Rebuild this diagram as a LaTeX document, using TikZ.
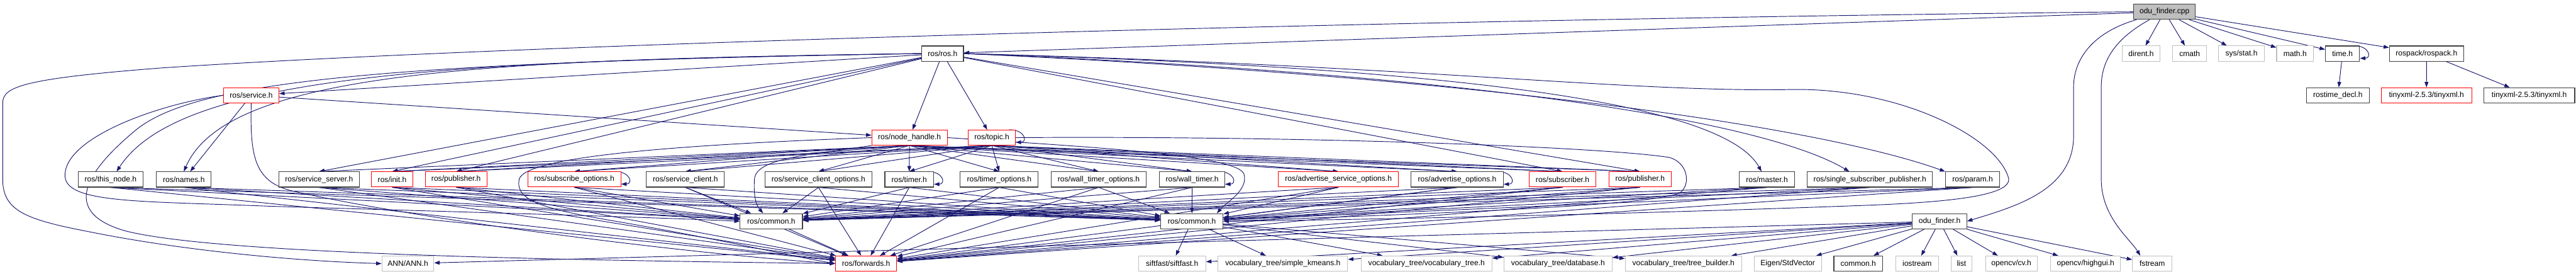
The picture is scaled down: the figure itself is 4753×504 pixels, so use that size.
\documentclass[tikz,border=0pt]{standalone}
\usepackage{fontspec}
\setmainfont{Liberation Sans}
\usepackage{tikz}
\usetikzlibrary{arrows.meta,positioning,calc}
\definecolor{navy}{RGB}{25,25,112}
\definecolor{dgris}{RGB}{64,64,64}
\definecolor{lgris}{RGB}{191,191,191}
\definecolor{rojo}{RGB}{255,0,0}
\pgfdeclarelayer{back}
\pgfsetlayers{back,main}

\begin{document}
\begin{tikzpicture}[x=1pt,y=-1pt,
hdr/.style={draw=dgris,line width=1.3pt,fill=white,minimum height=28pt,inner sep=2pt,anchor=north west,font=\fontsize{14pt}{16pt}\selectfont},
hred/.style={hdr,draw=rojo,line width=1.1pt},
ext/.style={hdr,draw=lgris,line width=1.2pt},
src/.style={hdr,fill=lgris},
arr/.style={-{Triangle[length=10pt,width=7pt]},draw=navy,line width=1.1pt}
]
\useasboundingbox (0,0) rectangle (4753,504);

\node[src,minimum width=114pt] (cpp) at (3936,7) {odu\_finder.cpp};

\node[hdr,minimum width=77pt] (ros) at (1700,84) {ros/ros.h};
\node[ext,minimum width=70pt] (dirent) at (3915,84) {dirent.h};
\node[ext,minimum width=63pt] (cmath) at (4008,84) {cmath};
\node[ext,minimum width=84pt] (sysstat) at (4093,84) {sys/stat.h};
\node[ext,minimum width=68pt] (math) at (4200,84) {math.h};
\node[hdr,minimum width=63pt] (time) at (4290,84) {time.h};
\node[hdr,minimum width=137pt] (rospack) at (4408,84) {rospack/rospack.h};

\node[hred,minimum width=102pt] (service) at (412,161) {ros/service.h};
\node[hdr,minimum width=116pt] (rostime) at (4255,161) {rostime\_decl.h};
\node[hred,minimum width=167pt] (txmlr) at (4393,161) {tinyxml-2.5.3/tinyxml.h};
\node[hdr,minimum width=168pt] (txmlb) at (4582,161) {tinyxml-2.5.3/tinyxml.h};

\node[hred,minimum width=139pt] (nh) at (1608,239) {ros/node\_handle.h};
\node[hred,minimum width=87pt] (topic) at (1786,239) {ros/topic.h};

\node[hdr,minimum width=119pt] (thisnode) at (144,316) {ros/this\_node.h};
\node[hdr,minimum width=101pt] (names) at (288,316) {ros/names.h};
\node[hdr,minimum width=148pt] (srvsrv) at (514,316) {ros/service\_server.h};
\node[hred,minimum width=76pt] (init) at (685,316) {ros/init.h};
\node[hred,minimum width=114pt] (pubA) at (784,316) {ros/publisher.h};
\node[hred,minimum width=172pt] (subopt) at (973,316) {ros/subscribe\_options.h};
\node[hdr,minimum width=144pt] (srvcli) at (1192,316) {ros/service\_client.h};
\node[hdr,minimum width=197pt] (scopt) at (1411,316) {ros/service\_client\_options.h};
\node[hdr,minimum width=90pt] (timer) at (1632,316) {ros/timer.h};
\node[hdr,minimum width=144pt] (timopt) at (1771,316) {ros/timer\_options.h};
\node[hdr,minimum width=175pt] (wtopt) at (1939,316) {ros/wall\_timer\_options.h};
\node[hdr,minimum width=120pt] (wtimer) at (2139,316) {ros/wall\_timer.h};
\node[hred,minimum width=222pt] (asopt) at (2358,316) {ros/advertise\_service\_options.h};
\node[hdr,minimum width=170pt] (aopt) at (2603,316) {ros/advertise\_options.h};
\node[hred,minimum width=123pt] (sub) at (2821,316) {ros/subscriber.h};
\node[hred,minimum width=115pt] (pubB) at (2968,316) {ros/publisher.h};
\node[hdr,minimum width=103pt] (master) at (3208,316) {ros/master.h};
\node[hdr,minimum width=231pt] (ssp) at (3334,316) {ros/single\_subscriber\_publisher.h};
\node[hdr,minimum width=100pt] (param) at (3589,316) {ros/param.h};

\node[hdr,minimum width=115pt] (commonA) at (1365,393) {ros/common.h};
\node[hdr,minimum width=115pt] (commonB) at (2141,393) {ros/common.h};
\node[hdr,minimum width=100pt] (oduh) at (3528,393) {odu\_finder.h};

\node[ext,minimum width=96pt] (ann) at (704,471) {ANN/ANN.h};
\node[hred,minimum width=113pt] (fwd) at (1541,471) {ros/forwards.h};
\node[ext,minimum width=124pt] (sift) at (2100,471) {siftfast/siftfast.h};
\node[ext,minimum width=239pt] (kmeans) at (2247,471) {vocabulary\_tree/simple\_kmeans.h};
\node[ext,minimum width=241pt] (vtree) at (2511,471) {vocabulary\_tree/vocabulary\_tree.h};
\node[ext,minimum width=200pt] (vdb) at (2774,471) {vocabulary\_tree/database.h};
\node[ext,minimum width=215pt] (tbuild) at (2998,471) {vocabulary\_tree/tree\_builder.h};
\node[ext,minimum width=124pt] (eigen) at (3236,471) {Eigen/StdVector};
\node[hdr,minimum width=90pt] (common) at (3383,471) {common.h};
\node[ext,minimum width=79pt] (iostream) at (3497,471) {iostream};
\node[ext,minimum width=39pt] (list) at (3599,471) {list};
\node[ext,minimum width=95pt] (cv) at (3663,471) {opencv/cv.h};
\node[ext,minimum width=129pt] (highgui) at (3783,471) {opencv/highgui.h};
\node[ext,minimum width=73pt] (fstream) at (3934,471) {fstream};

\begin{pgfonlayer}{back}
\draw[arr] (cpp) -- (ros);
\draw[arr] (cpp.west) .. controls (2400,38) and (900,85) .. (300,125) .. controls (40,145) and (5,160) .. (5,190) -- (5,330) .. controls (5,390) and (50,405) .. (170,428) .. controls (320,458) and (520,480) .. (ann.west);
\foreach \x in {dirent,cmath,sysstat,math,time,rospack} \draw[arr] (cpp) -- (\x);
\draw[arr] ([xshift=6pt]cpp.south west) .. controls (3860,60) and (3826,110) .. (3826,160) -- (3826,250) .. controls (3826,350) and (3720,380) .. (oduh.east);
\draw[arr] ([xshift=30pt]cpp.south west) .. controls (3905,70) and (3877,110) .. (3877,160) -- (3877,330) .. controls (3877,400) and (3930,440) .. ([xshift=-22pt]fstream.north);
\draw[arr] (time) -- (rostime);
\foreach \x in {txmlr,txmlb} \draw[arr] (rospack) -- (\x);

\draw[arr] (ros) -- (service);
\draw[arr] (ros.west) .. controls (800,112) and (330,140) .. ([xshift=11pt]thisnode.north);
\draw[arr] (ros.west) .. controls (900,110) and (420,130) .. (names.north);
\foreach \x in {srvsrv,init,pubA,sub,pubB} \draw[arr] (ros) -- (\x.north);
\foreach \x in {nh,topic} \draw[arr] (ros) -- (\x);
\draw[arr] (ros.east) .. controls (2700,125) and (3180,190) .. ([xshift=-10pt]master.north);
\draw[arr] (ros.east) .. controls (2700,135) and (3250,220) .. ([xshift=-38pt]ssp.north);
\draw[arr] (ros.east) .. controls (2700,140) and (3350,230) .. (param.north west);
\draw[arr] (ros.west) .. controls (700,115) and (360,150) .. (250,240) .. controls (160,315) and (110,390) .. (230,425) .. controls (400,470) and (1100,480) .. (fwd.west);
\draw[arr] (ros.east) .. controls (2600,120) and (3000,170) .. (3300,165) .. controls (3500,160) and (3680,250) .. (3705,325) .. controls (3720,360) and (3600,372) .. (3450,378) .. controls (3000,395) and (2500,405) .. (commonB.east);

\draw[arr] (service) -- (names);
\draw[arr] (service) -- (nh);
\draw[arr] (service.west) .. controls (300,190) and (125,250) .. (120,320) .. controls (115,375) and (250,370) .. (500,380) .. controls (900,392) and (1200,400) .. (commonA.west);
\draw[arr] (service.south) .. controls (461,290) and (470,335) .. (540,352) .. controls (800,410) and (1300,470) .. (fwd.west);

\foreach \x in {srvsrv,init,pubA,subopt,srvcli,scopt,timer,timopt,wtopt,wtimer,asopt,aopt,sub,pubB} \draw[arr] (nh.south) -- (\x.north);
\foreach \x in {init,pubA,subopt,srvcli,scopt,timer,timopt,wtopt,wtimer,asopt,aopt,sub,pubB} \draw[arr] (topic.south) -- (\x.north);
\draw[arr] (nh.south west) .. controls (1500,285) and (1395,290) .. (1392,330) .. controls (1390,360) and (1395,378) .. ([xshift=-15pt]commonA.north);
\draw[arr] (nh.west) .. controls (1300,265) and (970,285) .. (958,330) .. controls (950,370) and (1000,385) .. (1150,410) .. controls (1350,445) and (1450,470) .. (fwd.west);
\draw[arr] (nh.east) .. controls (2000,270) and (2280,285) .. (2295,320) .. controls (2305,350) and (2260,375) .. ([xshift=-12pt]commonB.north east);
\draw[arr] (topic.east) .. controls (2400,250) and (2950,270) .. (3080,290) .. controls (3115,300) and (3120,340) .. (3100,355) .. controls (3050,380) and (2600,395) .. (commonB.east);

\foreach \x in {subopt,timer,topic,wtimer,aopt,time} \draw[arr] ([xshift=-12pt]\x.north east) .. controls +(30,0) and +(22,0) .. ([yshift=6pt]\x.south east);

\foreach \x in {thisnode,names,srvsrv,init,pubA,subopt,srvcli,scopt,timer,timopt,wtopt,wtimer,asopt,aopt,sub,pubB,master,ssp,param}
  \foreach \y in {commonA,commonB,fwd} \draw[arr] (\x.south) -- (\y);

\draw[arr] (commonA) -- (fwd);
\foreach \x in {sift,kmeans,vtree,vdb,tbuild} \draw[arr] (commonB) -- (\x);
\foreach \x in {ann,sift,kmeans,vtree,vdb,tbuild,eigen,common,iostream,list,cv,highgui,fstream} \draw[arr] (oduh) -- (\x);
\end{pgfonlayer}
\end{tikzpicture}
\end{document}
